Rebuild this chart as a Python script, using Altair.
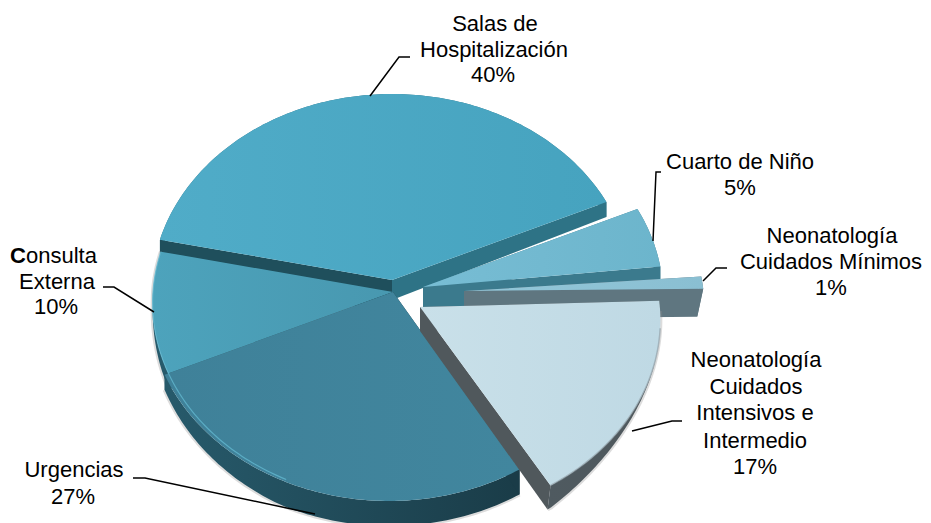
import math
import altair as alt

# --- values ---
names = ["Salas de Hospitalización", "Cuarto de Niño", "Neonatología Cuidados Mínimos",
         "Neonatología Cuidados Intensivos e Intermedio", "Urgencias", "Consulta Externa"]
shares = [40, 5, 1, 17, 27, 10]
start_angle = 282
explode_x = [-1, 30, 71, 27, -4, 0]
explode_y = [-12, -5, 5, 17, 1, 0]
apex_dx = [0, 0, 0, 0, 4, 0]
apex_dy = [0, 0, -6, -2, -1, 0]
depths = [20, 25, 28, 24, 25, 25]
end_depths = [15, 25, 28, 24, 25, 25]
wall_dx = [0, 0, -6, -3, 0, 0]
top_colors = [("#50ACC8", "#46A3BF"), ("#78BDD4", "#6CB5CC"), ("#93C7D9", "#8ABFD2"),
              ("#C9E0E9", "#BFD9E4"), ("#3F8199", "#41869E"), ("#4DA3BC", "#4898B0")]
band_colors = [("#2E7386", "#2E7386"), ("#3B7A8D", "#3B7A8D"), ("#5F7680", "#5F7680"),
               ("#4F5A60", "#4F585C"), ("#275A6B", "#1A3C48"), ("#275A6B", "#275A6B")]
face_start = ["#1F4F5C", "#3B7A8D", "#5F7680", "#50585C", "#1A3C48", "#275A6B"]
face_end = ["#2E7386", "#3B7A8D", "#5F7680", "#50585C", "#275A6B", "#1F4F5C"]

label_text = ["Salas de", "Hospitalización", "40%", "Cuarto de Niño", "5%",
              "Neonatología", "Cuidados Mínimos", "1%",
              "Neonatología", "Cuidados", "Intensivos e", "Intermedio", "17%",
              "Externa", "10%", "Urgencias", "27%"]
label_x = [495, 494, 493, 740, 740, 832, 831, 831, 756, 756, 755, 755, 755, 57, 56, 74, 73]
label_y = [24, 50, 75, 162, 188, 236, 262, 288, 360, 387, 413, 441, 467, 282, 307, 470, 497]

leader_groups = [
    [(370, 96), (399, 57), (410, 57)],
    [(653, 241), (656, 172), (661, 172)],
    [(703, 281), (716, 268), (727, 268)],
    [(632, 431), (672, 421), (682, 421)],
    [(133, 478), (145, 478), (315, 514)],
    [(103, 287), (114, 287), (154, 312)],
]

FONT = "Liberation Sans"
FSIZE = 22
CX, CY, F, G, K = 393, 292, 240, 196.4, 0.0557
W, H = 915, 515

xs = alt.Scale(domain=[8, 8 + W], nice=False, zero=False)
ys = alt.Scale(domain=[8 + H, 8], nice=False, zero=False)


def proj(deg):
    a = math.radians(deg)
    w = 1 + K * math.cos(a)
    return CX + F * math.sin(a) / w, CY - G * math.cos(a) / w


def angles(a, b):
    n = max(2, int(abs(b - a)) + 1)
    return [a + (b - a) * i / (n - 1) for i in range(n)]


def arc(a, b, dx, dy):
    return [(proj(t)[0] + dx, proj(t)[1] + dy) for t in angles(a, b)]


def taper(t):
    # the visible wall narrows towards the left and right ends of the pie
    t = t % 360
    if 90 <= t <= 180:
        return min(1.0, max(0.0, (t - 95) / 53)) ** 2
    if 180 < t <= 282:
        return math.sqrt(min(1.0, max(0.0, (270 - t) / 65)))
    return 1.0


def grad(c1, c2):
    return alt.LinearGradient(gradient="linear", x1=0, y1=0, x2=1, y2=0,
                              stops=[alt.GradientStop(color=c1, offset=0),
                                     alt.GradientStop(color=c2, offset=1)])


def poly(points, fill):
    vals = [{"x": p[0], "y": p[1], "i": i} for i, p in enumerate(points)]
    return alt.Chart(alt.Data(values=vals)).mark_line(
        fill=fill, interpolate="linear-closed", strokeWidth=0, strokeOpacity=0
    ).encode(x=alt.X("x:Q", scale=xs, axis=None), y=alt.Y("y:Q", scale=ys, axis=None),
             order=alt.Order("i:Q"))


def path(points, color, width, opacity=1.0):
    vals = [{"x": p[0], "y": p[1], "i": i} for i, p in enumerate(points)]
    return alt.Chart(alt.Data(values=vals)).mark_line(
        color=color, strokeWidth=width, opacity=opacity
    ).encode(x=alt.X("x:Q", scale=xs, axis=None), y=alt.Y("y:Q", scale=ys, axis=None),
             order=alt.Order("i:Q"))


# angular extents come from the shares
extents = []
ang = start_angle
for s in shares:
    extents.append((ang, ang + s * 3.6))
    ang += s * 3.6


def slice_layers(k):
    a, b = extents[k]
    dx, dy, d, de = explode_x[k], explode_y[k], depths[k], end_depths[k]
    apex = (CX + dx + apex_dx[k], CY + dy + apex_dy[k])
    rim = arc(a, b, dx, dy)
    ts = angles(a, b)
    if k in (3, 4, 5):
        low = [(p[0] + wall_dx[k] * taper(t), p[1] + d * taper(t)) for p, t in zip(rim, ts)]
    else:
        low = [(p[0] + wall_dx[k], p[1] + de) for p in rim]
    out = []
    if k in (3, 4, 5):
        out.append(path(low, "#8A8A8A", 4, 0.3))
    out.append(poly(rim + low[::-1], grad(*band_colors[k])))
    out.append(poly([apex, rim[0], low[0], (apex[0], apex[1] + d)], face_start[k]))
    out.append(poly([apex, rim[-1], low[-1], (apex[0], apex[1] + d)], face_end[k]))
    out.append(poly([apex] + rim, grad(*top_colors[k])))
    return out


layers = []
for k in [0, 1, 2, 5, 4, 3]:
    layers += slice_layers(k)

# light rim along the front of the top faces
layers.append(path(arc(205, 282, 0, 0), "#62B6CE", 1.2, 0.8))
layers.append(path(arc(extents[3][0] + 8, extents[3][1], explode_x[3], explode_y[3]), "#8A9AA2", 1.5, 0.6))

for g in leader_groups:
    layers.append(path(g, "#000000", 1.5))

text_vals = [{"x": x, "y": y, "t": t} for x, y, t in zip(label_x, label_y, label_text)]
layers.append(alt.Chart(alt.Data(values=text_vals)).mark_text(
    font=FONT, fontSize=FSIZE, color="#000000", align="center", baseline="middle"
).encode(x=alt.X("x:Q", scale=xs, axis=None), y=alt.Y("y:Q", scale=ys, axis=None), text="t:N"))

# "Consulta" has a bold first letter
layers.append(alt.Chart(alt.Data(values=[{"x": 26, "y": 256, "t": "C"}])).mark_text(
    font=FONT, fontSize=FSIZE, fontWeight="bold", color="#000000", align="right", baseline="middle"
).encode(x=alt.X("x:Q", scale=xs, axis=None), y=alt.Y("y:Q", scale=ys, axis=None), text="t:N"))
layers.append(alt.Chart(alt.Data(values=[{"x": 26, "y": 256, "t": "onsulta"}])).mark_text(
    font=FONT, fontSize=FSIZE, color="#000000", align="left", baseline="middle"
).encode(x=alt.X("x:Q", scale=xs, axis=None), y=alt.Y("y:Q", scale=ys, axis=None), text="t:N"))

chart = alt.layer(*layers).properties(
    width=W, height=H, padding=0, autosize="none", background="#FFFFFF"
).configure_view(stroke=None)

chart.save("out.html", embed_options={"renderer": "svg", "actions": False})
